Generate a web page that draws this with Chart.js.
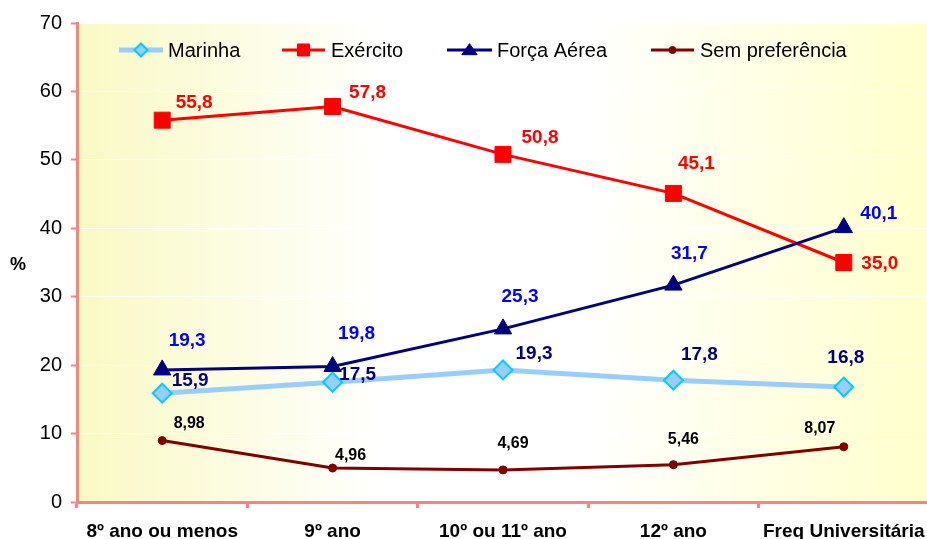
<!DOCTYPE html>
<html>
<head>
<meta charset="utf-8">
<script src="https://cdn.jsdelivr.net/npm/chart.js@4/dist/chart.umd.min.js"></script>
<style>
html, body { margin: 0; padding: 0; overflow: hidden; background: #ffffff; }
#wrap { width: 929px; height: 539px; }
</style>
</head>
<body>
<div id="wrap"><canvas id="c" width="929" height="539"></canvas></div>
<script>
// ---- data ----
const categories = ['8º ano ou menos', '9º ano', '10º ou 11º ano', '12º ano', 'Freq Universitária'];
const seriesNames = ['Marinha', 'Exército', 'Força Aérea', 'Sem preferência'];
const marinha = [15.9, 17.5, 19.3, 17.8, 16.8];
const exercito = [55.8, 57.8, 50.8, 45.1, 35.0];
const forcaAerea = [19.3, 19.8, 25.3, 31.7, 40.1];
const semPreferencia = [8.98, 4.96, 4.69, 5.46, 8.07];
const yMin = 0, yMax = 70, yStep = 10;
const labelDecimals = [1, 1, 1, 2];

// ---- label placement (layout, px offsets from point) ----
const labelOffsets = [
  [[28, -12], [25, -7], [31, -16], [26, -25], [2, -29]],
  [[32, -17], [35, -14], [37, -17], [23, -30], [36, 1]],
  [[25, -29], [24, -33], [17, -32], [16, -31], [35, -14]],
  [[27, -17], [18, -12], [10, -26], [10, -25], [-24, -18]]
];
const labelColors = ['#000080', '#FF0000', '#0000FF', '#000000'];
const labelFonts = ['bold 19px "Liberation Sans", Arial, sans-serif', 'bold 19px "Liberation Sans", Arial, sans-serif',
                    'bold 19px "Liberation Sans", Arial, sans-serif', 'bold 16px "Liberation Sans", Arial, sans-serif'];
const legendLayout = [
  { x0: 119, x1: 163, tx: 168, r: 6.5 },
  { x0: 282, x1: 325, tx: 331, r: 8.5 },
  { x0: 447, x1: 492, tx: 497, r: 8.5 },
  { x0: 651, x1: 694, tx: 700, r: 3.5 }
];
const FONT = '"Liberation Sans", Arial, sans-serif';

function drawMarker(ctx, style, x, y, r, fill, stroke, bw) {
  ctx.save();
  ctx.beginPath();
  if (style === 'rectRot') {
    ctx.moveTo(x - r, y); ctx.lineTo(x, y - r); ctx.lineTo(x + r, y); ctx.lineTo(x, y + r); ctx.closePath();
  } else if (style === 'rect') {
    const s = r * Math.SQRT1_2; ctx.rect(x - s, y - s, 2 * s, 2 * s);
  } else if (style === 'triangle') {
    ctx.moveTo(x, y - r * 0.75); ctx.lineTo(x + r * 0.9, y + r * 0.55); ctx.lineTo(x - r * 0.9, y + r * 0.55); ctx.closePath();
  } else {
    ctx.arc(x, y, r, 0, Math.PI * 2);
  }
  ctx.fillStyle = fill; ctx.fill();
  if (bw) { ctx.lineWidth = bw; ctx.strokeStyle = stroke; ctx.stroke(); }
  ctx.restore();
}

const bgPlugin = {
  id: 'bg',
  beforeDraw(chart) {
    const { ctx, chartArea: a } = chart;
    const g = ctx.createLinearGradient(a.left, 0, a.right, 0);
    g.addColorStop(0, '#F9F9C4');
    g.addColorStop(0.36, '#FFFFFF');
    g.addColorStop(0.6, '#FFFFFF');
    g.addColorStop(1, '#FFFFCC');
    ctx.save();
    ctx.fillStyle = g;
    ctx.fillRect(a.left, a.top, a.right - a.left, a.bottom - a.top);
    ctx.restore();
  }
};

const labelPlugin = {
  id: 'vals',
  afterDatasetsDraw(chart) {
    const ctx = chart.ctx;
    ctx.save();
    ctx.textAlign = 'center';
    ctx.textBaseline = 'middle';
    chart.data.datasets.forEach((ds, di) => {
      const meta = chart.getDatasetMeta(di);
      ctx.font = labelFonts[di];
      ctx.fillStyle = labelColors[di];
      meta.data.forEach((pt, i) => {
        const txt = ds.data[i].toFixed(labelDecimals[di]).replace('.', ',');
        ctx.fillText(txt, pt.x + labelOffsets[di][i][0], pt.y + labelOffsets[di][i][1]);
      });
    });
    // legend inside plot
    const ly = 50;
    chart.data.datasets.forEach((ds, di) => {
      const L = legendLayout[di];
      ctx.beginPath();
      ctx.strokeStyle = ds.borderColor;
      ctx.lineWidth = ds.borderWidth;
      ctx.moveTo(L.x0, ly); ctx.lineTo(L.x1, ly); ctx.stroke();
      drawMarker(ctx, ds.pointStyle, (L.x0 + L.x1) / 2, ly, L.r, ds.pointBackgroundColor, ds.pointBorderColor, ds.pointBorderWidth);
      ctx.fillStyle = '#000000';
      ctx.font = '20px ' + FONT;
      ctx.textAlign = 'left';
      ctx.textBaseline = 'alphabetic';
      ctx.fillText(ds.label, L.tx, 57);
    });
    // axis title
    ctx.font = 'bold 18px ' + FONT;
    ctx.textAlign = 'center';
    ctx.textBaseline = 'middle';
    ctx.fillStyle = '#000000';
    ctx.fillText('%', 18, 265);
    ctx.restore();
  }
};

new Chart(document.getElementById('c'), {
  type: 'line',
  data: {
    labels: categories,
    datasets: [
      { label: seriesNames[0], data: marinha, borderColor: '#99CCFF', borderWidth: 5,
        pointStyle: 'rectRot', pointRadius: 9.5, pointBackgroundColor: '#99CCFF', pointBorderColor: '#00CCFF', pointBorderWidth: 2, order: 3 },
      { label: seriesNames[1], data: exercito, borderColor: '#FF0000', borderWidth: 3,
        pointStyle: 'rect', pointRadius: 11.3, pointBackgroundColor: '#FF0000', pointBorderColor: '#FF0000', pointBorderWidth: 1, order: 2 },
      { label: seriesNames[2], data: forcaAerea, borderColor: '#000080', borderWidth: 3,
        pointStyle: 'triangle', pointRadius: 10, pointBackgroundColor: '#000080', pointBorderColor: '#000080', pointBorderWidth: 1, order: 1 },
      { label: seriesNames[3], data: semPreferencia, borderColor: '#800000', borderWidth: 3,
        pointStyle: 'circle', pointRadius: 4, pointBackgroundColor: '#800000', pointBorderColor: '#800000', pointBorderWidth: 1, order: 0 }
    ]
  },
  options: {
    responsive: false,
    animation: false,
    layout: { autoPadding: false, padding: { top: 23, right: 0, left: 0, bottom: 0 } },
    plugins: { legend: { display: false }, tooltip: { enabled: false } },
    elements: { line: { tension: 0 } },
    scales: {
      x: {
        offset: true,
        grid: { drawOnChartArea: false, drawTicks: true, tickLength: 6, tickColor: '#FF8080', tickWidth: 3, offset: true },
        border: { color: '#FF8080', width: 3 },
        ticks: { color: '#000000', padding: 0, maxRotation: 0, autoSkip: false,
                 font: { family: FONT, size: 19, weight: 'bold', lineHeight: 2.46 } },
        afterFit(scale) { scale.height = 37; scale.paddingLeft = 0; scale.paddingRight = 0; }
      },
      y: {
        min: yMin, max: yMax,
        grid: { color: '#FFFFFF', lineWidth: 1, tickLength: 6, tickColor: '#FF8080', tickWidth: 2 },
        border: { color: '#FF8080', width: 3 },
        ticks: { stepSize: yStep, color: '#000000', padding: 9, font: { family: FONT, size: 20 } },
        afterFit(scale) { scale.width = 77; }
      }
    }
  },
  plugins: [bgPlugin, labelPlugin]
});
</script>
</body>
</html>
